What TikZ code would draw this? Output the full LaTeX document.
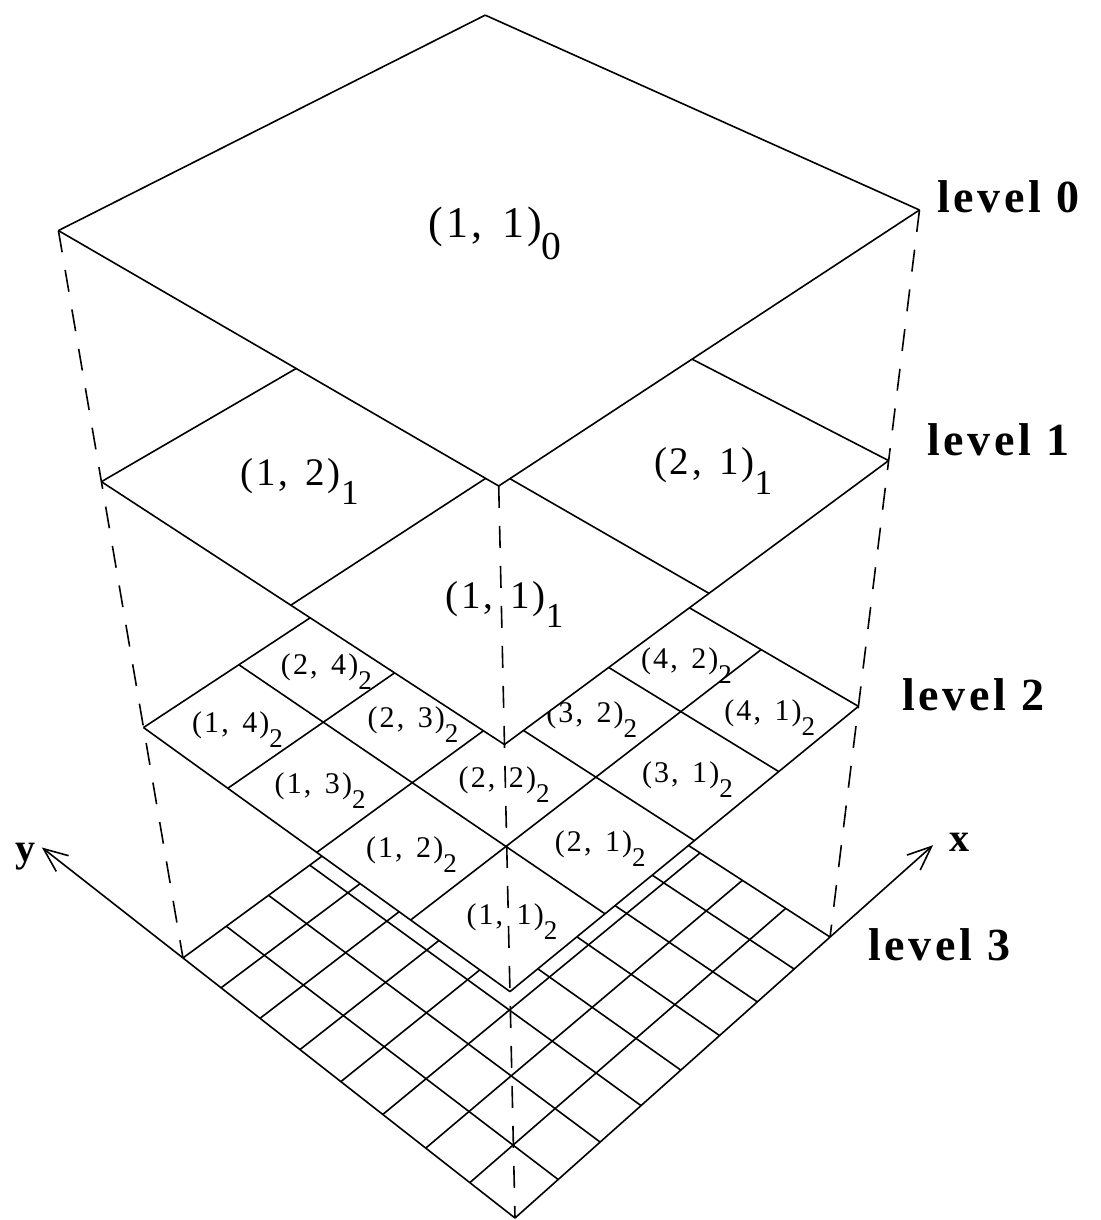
\documentclass[tikz,border=0pt]{standalone}
\usepackage{fontspec}
\setmainfont{Liberation Serif}
\newfontfamily\labelfont[LetterSpace=7]{Liberation Serif}
\newfontfamily\levelfont[LetterSpace=8]{Liberation Serif}
\usepackage{graphicx}
\usetikzlibrary{arrows.meta,positioning}

% point (X,Y) of a face at height h, seen in perspective
\newcommand\setpt[4]{%
  \pgfmathsetmacro\prjw{1+0.11127*(#2)+0.10298*(#3)+(#4)}%
  \pgfmathsetmacro\prjx{(515+407.4*(#2)-313.2*(#3)+558*(#4))/\prjw}%
  \pgfmathsetmacro\prjy{(1218-176.7*(#2)-161.4*(#3)+3148*(#4))/\prjw}%
  \coordinate (#1) at (\prjx,\prjy)}
% one level: white face and n x n grid
\newcommand\drawlevel[3]{%
  \setpt{front#1}{0}{0}{#2};
  \setpt{right#1}{1}{0}{#2};
  \setpt{top#1}{1}{1}{#2};
  \setpt{left#1}{0}{1}{#2};
  \fill[level face] (front#1) -- (right#1) -- (top#1) -- (left#1) -- cycle;
  \foreach \i in {0,...,#3}{
    \setpt{xa}{\i/#3}{0}{#2};
    \setpt{xb}{\i/#3}{1}{#2};
    \draw[grid line] (xa) -- (xb);
    \setpt{ya}{0}{\i/#3}{#2};
    \setpt{yb}{1}{\i/#3}{#2};
    \draw[grid line] (ya) -- (yb);
  }}
\newcommand\cellname[3]{(#1,\hspace{0.45em}#2)\lower0.5em\hbox{\scalebox{0.9}{#3}}}

\tikzset{
  grid line/.style={line width=0.8pt},
  level face/.style={fill=white},
  corner line/.style={line width=0.8pt,dash pattern=on 11pt off 9pt},
  axis arrow/.style={line width=0.8pt,-{Straight Barb[length=12pt,width=10pt]}},
  cell label/.style={font=\labelfont\fontsize{#1}{#1}\selectfont,inner sep=0pt,yshift=-2.5pt},
  level label/.style={font=\levelfont\bfseries\fontsize{23}{23}\selectfont,
    anchor=base west,inner sep=0pt},
  axis label/.style={font=\bfseries\fontsize{20}{20}\selectfont,inner sep=0pt}
}

\begin{document}
\begin{tikzpicture}[x=0.5pt,y=-0.5pt]
  \useasboundingbox (0,0) rectangle (1100,1220);
  % bottom level first, each face hides the one below
  \drawlevel{3}{0}{8}
  \drawlevel{2}{-0.105}{4}
  \foreach \i/\j/\dx/\dy in {1/1/2/0,1/2/0/0,2/1/0/0,2/2/0/0,1/3/0/0,3/1/0/0,
      1/4/2/0,4/1/0/-2,2/3/0/0,3/2/0/0,2/4/0/-2,4/2/6/-4}{
    \setpt{c}{(\i-0.5)/4}{(\j-0.5)/4}{-0.105};
    \node[cell label=15,xshift=\dx pt,yshift=\dy pt] (cell2-\i\j) at (c)
      {\cellname{\i}{\j}{2}};
  }
  \drawlevel{1}{-0.197}{2}
  \foreach \i/\j/\dx in {1/1/2,1/2/0,2/1/10}{
    \setpt{c}{(\i-0.5)/2}{(\j-0.5)/2}{-0.197};
    \node[cell label=19.5,xshift=\dx pt] (cell1-\i\j) at (c) {\cellname{\i}{\j}{1}};
  }
  \drawlevel{0}{-0.275}{1}
  \setpt{c}{0.5}{0.5}{-0.275};
  \node[cell label=22,yshift=-4pt,xshift=2pt] (cell0-11) at (c) {\cellname{1}{1}{0}};
  % vertical corner lines
  \draw[corner line] (left0) -- (left3);
  \draw[corner line] (right0) -- (right3);
  \draw[corner line] (front0) -- (front3);
  % axes
  \setpt{ytip}{0}{1.49}{0};
  \setpt{xtip}{1.377}{0}{0};
  \draw[axis arrow] (left3) -- (ytip);
  \draw[axis arrow] (right3) -- (xtip);
  \node[axis label] (ylab) at (25,857) {y};
  \node[axis label] (xlab) at (959,842) {x};
  % level names
  \node[level label] (lev0) at (937,212) {level 0};
  \node[level label] (lev1) at (927,455) {level 1};
  \node[level label] (lev2) at (902,710) {level 2};
  \node[level label] (lev3) at (868,960) {level 3};
\end{tikzpicture}
\end{document}
